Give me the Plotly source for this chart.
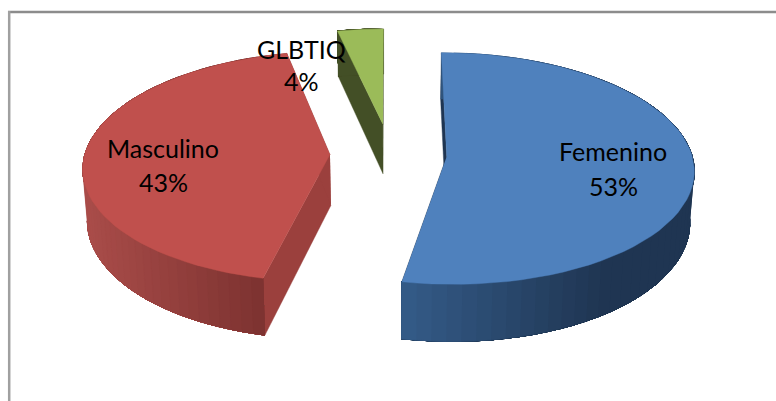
import math
import plotly.graph_objects as go

categories = ["Femenino", "Masculino", "GLBTIQ"]
values = [52.9, 43.4, 3.5]

top_colors = ["#4f81bd", "#c0504d", "#9bbb59"]
radial_colors = ["#1f3552", "#9b403d", "#434f26"]
wall_near = ["#345b87", "#7c3230", "#434f26"]
wall_far = ["#1f3552", "#a94c49", "#434f26"]
explode = [0.232, 0.245, 0.27]
radius = [1.0, 1.0, 0.97]
start_trim_deg = [0.0, 1.9, 0.0]
label_xy = [(613, 151, 186), (163, 148, 182), (301, 49, 81)]

VX, Y0, A, B, K, D, S = 390, 154, 245, 114, 0.104, 51, 0.985


def proj(u, v, h=0):
    w = 1 / (1 + K * v)
    return VX + A * u * w * (S if h else 1), Y0 - B * v * w + D * h * w


def hexmix(c1, c2, t):
    t = max(0, min(1, t))
    a = [int(c1[i:i + 2], 16) for i in (1, 3, 5)]
    b = [int(c2[i:i + 2], 16) for i in (1, 3, 5)]
    return "#%02x%02x%02x" % tuple(round(p + (q - p) * t) for p, q in zip(a, b))


def poly(pts, color, lw=0.4):
    return go.Scatter(x=[p[0] for p in pts], y=[p[1] for p in pts], mode="lines",
                      fill="toself", fillcolor=color, line=dict(color=color, width=lw),
                      hoverinfo="skip", showlegend=False)


walls, tops = [], []
total = sum(values)
start = 0.0
for i, val in enumerate(values):
    end = start + val / total * 2 * math.pi
    mid = (start + end) / 2
    u0, v0 = explode[i] * math.sin(mid), explode[i] * math.cos(mid)
    n = 60
    s0 = start + math.radians(start_trim_deg[i])
    th = [s0 + (end - s0) * j / n for j in range(n + 1)]
    rim = [(u0 + radius[i] * math.sin(t), v0 + radius[i] * math.cos(t)) for t in th]
    # radial walls
    for (u, v) in (rim[0], rim[-1]):
        walls.append(poly([proj(u0, v0), proj(u, v), proj(u, v, 1), proj(u0, v0, 1)], radial_colors[i]))
    # outer curved wall, shaded in overlapping bands so no seams show
    bands = list(range(n))
    if i == 1:
        bands.reverse()
    for j in bands:
        a, b = rim[j], rim[j + 1]
        xm = (proj(*a)[0] + proj(*b)[0]) / 2
        if i == 0:
            t = (xm - 404) / 200
        elif i == 1:
            t = (264 - xm) / 176
        else:
            t = 0
        chain = rim[j:] if i == 0 else rim[:j + 2]
        pts = [proj(*p) for p in chain] + [proj(*p, 1) for p in reversed(chain)]
        walls.append(poly(pts, hexmix(wall_near[i], wall_far[i], t)))
    tops.append(poly([proj(u0, v0)] + [proj(u, v) for u, v in rim], top_colors[i]))
    start = end

fig = go.Figure(walls + tops)

for cat, val, (x, y1, y2) in zip(categories, values, label_xy):
    for txt, y in ((cat, y1), (f"{val:.0f}%", y2)):
        fig.add_annotation(x=x, y=y, text=txt, showarrow=False, xanchor="center", yanchor="middle",
                           font=dict(family="Lato", size=25, color="#000000"))

fig.add_shape(type="line", x0=8, x1=776, y0=12, y1=12, line=dict(color="#8c8c8c", width=2.5))
fig.add_shape(type="line", x0=9.2, x1=9.2, y0=11, y1=401, line=dict(color="#a0a0a0", width=2.5))

fig.update_layout(width=776, height=401, margin=dict(l=0, r=0, t=0, b=0),
                  paper_bgcolor="white", plot_bgcolor="white", showlegend=False,
                  xaxis=dict(range=[0, 776], visible=False, fixedrange=True),
                  yaxis=dict(range=[401, 0], visible=False, fixedrange=True))
fig.write_html("out.html", config={"displayModeBar": False},
               post_script="document.body.style.margin='0';document.body.style.overflow='hidden';")
